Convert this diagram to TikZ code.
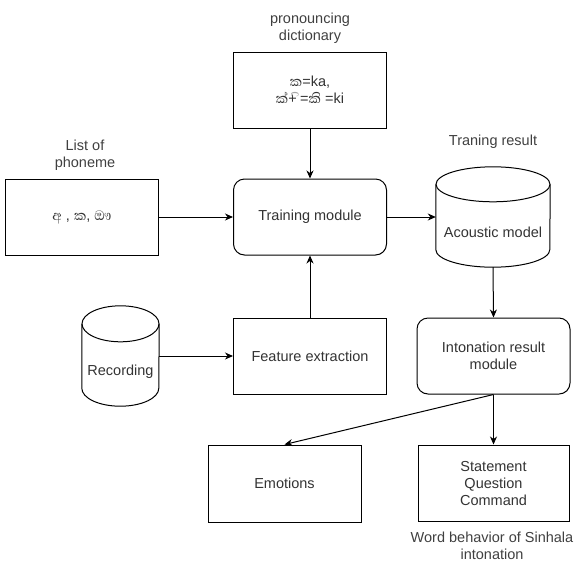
\documentclass[tikz,border=0pt]{standalone}
\usepackage{fontspec}
\setmainfont{Liberation Sans}
\newfontfamily\sinhf[Script=Sinhala,Scale=1.2]{Abhaya Libre}
\usetikzlibrary{arrows.meta,calc}
\begin{document}
\begin{tikzpicture}[x=1pt,y=-1pt,
  every node/.style={font=\fontsize{14.5}{17}\selectfont, text=black!80, align=center, inner sep=0pt},
  box/.style={draw=black, line width=1pt, minimum width=153pt, minimum height=76pt},
  rbox/.style={box, rounded corners=11pt},
  cyl/.style={minimum width=#1, minimum height=100pt},
  lbl/.style={text=black!75},
  conn/.style={draw=black, line width=1pt, -{Stealth[length=8pt,width=7pt,inset=2.5pt]}},
  cylline/.style={draw=black, line width=1pt}
]
\useasboundingbox (0,0) rectangle (577,563);

% nodes
\node[box] (dict) at (310,90) {{\sinhf ක}=ka,\\{\sinhf ක්}+{\color{black!35}\sinhf ^^^^00a0ි}={\sinhf කි} =ki};
\node[rbox] (train) at (310,217) {Training module};
\node[box] (list) at (82,217) {{\sinhf අ} , {\sinhf ක}, {\sinhf ඖ}};
\node[cyl=114pt] (acou) at (493,217) {};
\node (acoutext) at (493,232) {Acoustic model};
\node[cyl=77pt] (rec) at (120.5,356) {};
\node (rectext) at (120.5,372) {Recording};
\node[box] (feat) at (310,356) {Feature extraction};
\node[rbox] (inton) at (493.5,356) {Intonation result\\module};
\node[box, minimum height=77pt] (emo) at (284.5,483.5) {Emotions};
\node[box, minimum width=151pt] (stmt) at (493.5,483) {Statement\\Question\\Command};

% labels
\node[lbl] (l1) at (310,28) {pronouncing\\dictionary};
\node[lbl] (l2) at (85,155) {List of\\phoneme};
\node[lbl] (l3) at (493,142) {Traning result};
\node[lbl] (l4) at (492,546) {Word behavior of Sinhala\\intonation};

% cylinders
\draw[cylline] ([yshift=-17.5pt]acou.north west) -- ([yshift=17.5pt]acou.south west)
  arc[start angle=180, end angle=360, x radius=57pt, y radius=17.5pt]
  -- ([yshift=-17.5pt]acou.north east);
\draw[cylline] ([yshift=-17.5pt]acou.north) ellipse [x radius=57pt, y radius=17.5pt];
\draw[cylline] ([yshift=-18pt]rec.north west) -- ([yshift=18pt]rec.south west)
  arc[start angle=180, end angle=360, x radius=38.5pt, y radius=18pt]
  -- ([yshift=-18pt]rec.north east);
\draw[cylline] ([yshift=-18pt]rec.north) ellipse [x radius=38.5pt, y radius=18pt];

% connectors
\draw[conn] (dict.south) -- (train.north);
\draw[conn] (list.east) -- (train.west);
\draw[conn] (train.east) -- (acou.west);
\draw[conn] (acou.south) -- (inton.north);
\draw[conn] (rec.east) -- (feat.west);
\draw[conn] (feat.north) -- (train.south);
\draw[conn] (inton.south) -- (stmt.north);
\draw[conn] (inton.south) -- (emo.north);
\end{tikzpicture}
\end{document}
